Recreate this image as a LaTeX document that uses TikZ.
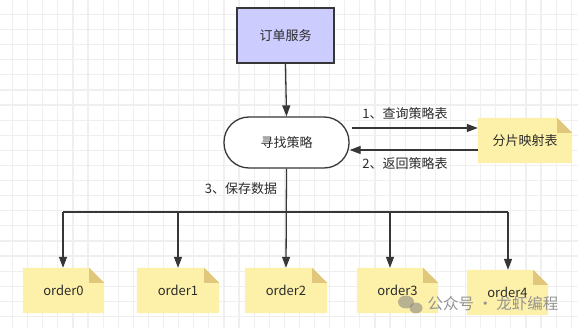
\documentclass[tikz,border=0pt]{standalone}
\usepackage{fontspec}
\newfontfamily\cjk{Noto Sans CJK SC}
\usetikzlibrary{arrows.meta,calc}
\definecolor{gridc}{HTML}{EFEFEF}
\definecolor{linec}{HTML}{363636}
\definecolor{txtc}{HTML}{2B2B2B}
\definecolor{lav}{HTML}{CCCCFF}
\definecolor{notefill}{HTML}{FDF1A9}
\definecolor{foldfill}{HTML}{E0C77B}
\pgfdeclarelayer{gridlayer}
\pgfdeclarelayer{bglayer}
\pgfsetlayers{gridlayer,bglayer,main}
\tikzset{
  every node/.style={font=\cjk\fontsize{13}{15}\selectfont, text=txtc},
  svcbox/.style={draw=linec, line width=1.3pt, fill=lav, minimum width=97pt, minimum height=55pt, inner sep=0pt},
  roundbox/.style={draw=linec, line width=1.3pt, fill=white, rounded corners=25pt, minimum width=125pt, minimum height=51pt, inner sep=0pt},
  notebox/.style={minimum width=#1, minimum height=45pt, inner sep=0pt},
  conn/.style={draw=linec, line width=1.3pt},
  arr/.style={conn, -{Triangle[length=11pt,width=8pt]}},
  lbl/.style={inner sep=0pt},
}
\newcommand{\notefill}[1]{%
  \begin{pgfonlayer}{bglayer}
    \fill[notefill] (#1.north west) -- ($(#1.north east)+(-15,0)$) -- ($(#1.north east)+(0,15)$) -- (#1.south east) -- (#1.south west) -- cycle;
    \fill[foldfill] ($(#1.north east)+(-15,0)$) -- ($(#1.north east)+(0,15)$) -- ($(#1.north east)+(-15,15)$) -- cycle;
  \end{pgfonlayer}}
\begin{document}
\begin{tikzpicture}[x=1pt,y=-1pt]
\useasboundingbox (0,0) rectangle (578,328);
\begin{pgfonlayer}{gridlayer}
  \fill[white] (0,0) rectangle (578,328);
  \foreach \i in {0,...,38} {
    \draw[gridc, line width=1.2pt] ({12.5+15.1*\i},0) -- ({12.5+15.1*\i},328);
  }
  \foreach \j in {0,...,21} {
    \draw[gridc, line width=1.2pt] (0,{14.5+15.1*\j}) -- (578,{14.5+15.1*\j});
  }
\end{pgfonlayer}

\node[svcbox] (svc) at (285.5,35.5) {订单服务};
\node[roundbox] (find) at (286.5,142.5) {寻找策略};
\node[notebox=94pt] (map) at (525,140.5) {分片映射表};
\notefill{map}

\node[notebox=81pt] (o0) at (63.5,290.5) {order0};
\node[notebox=82pt] (o1) at (178,290.5) {order1};
\node[notebox=82pt] (o2) at (286,290.5) {order2};
\node[notebox=81pt] (o3) at (397.5,290.5) {order3};
\node[notebox=81pt] (o4) at (507.5,292.5) {order4};
\notefill{o0}\notefill{o1}\notefill{o2}\notefill{o3}\notefill{o4}

\draw[arr] (svc.south) -- (find.north);
\draw[arr] ($(find.east)+(2,-14.5)$) -- ($(map.west)+(0,-12.5)$);
\draw[arr] ($(map.west)+(0,9.5)$) -- ($(find.east)+(0,7.5)$);
\node[lbl] (l1) at (405,114) {1、查询策略表};
\node[lbl] (l2) at (405,164) {2、返回策略表};

\coordinate (b0) at (63,212);
\coordinate (b1) at (178,212);
\coordinate (b2) at (286,212);
\coordinate (b3) at (390,212);
\coordinate (b4) at (508,212);
\draw[conn] (b0) -- (b4);
\draw[arr] (find.south) -- (o2.north);
\draw[arr] (b0) -- (b0 |- o0.north);
\draw[arr] (b1) -- (b1 |- o1.north);
\draw[arr] (b3) -- (b3 |- o3.north);
\draw[arr] (b4) -- (b4 |- o4.north);
\node[lbl] (l3) at (241,189) {3、保存数据};

% watermark
\fill[gray, opacity=0.55] (406,302) ellipse (8pt and 6.5pt);
\fill[gray, opacity=0.55] (416,308) ellipse (6.5pt and 5.5pt);
\node[lbl, text=gray!85, font=\cjk\fontsize{15.5}{17}\selectfont] (wm) at (493,304) {公众号 · 龙虾编程};
\end{tikzpicture}
\end{document}
